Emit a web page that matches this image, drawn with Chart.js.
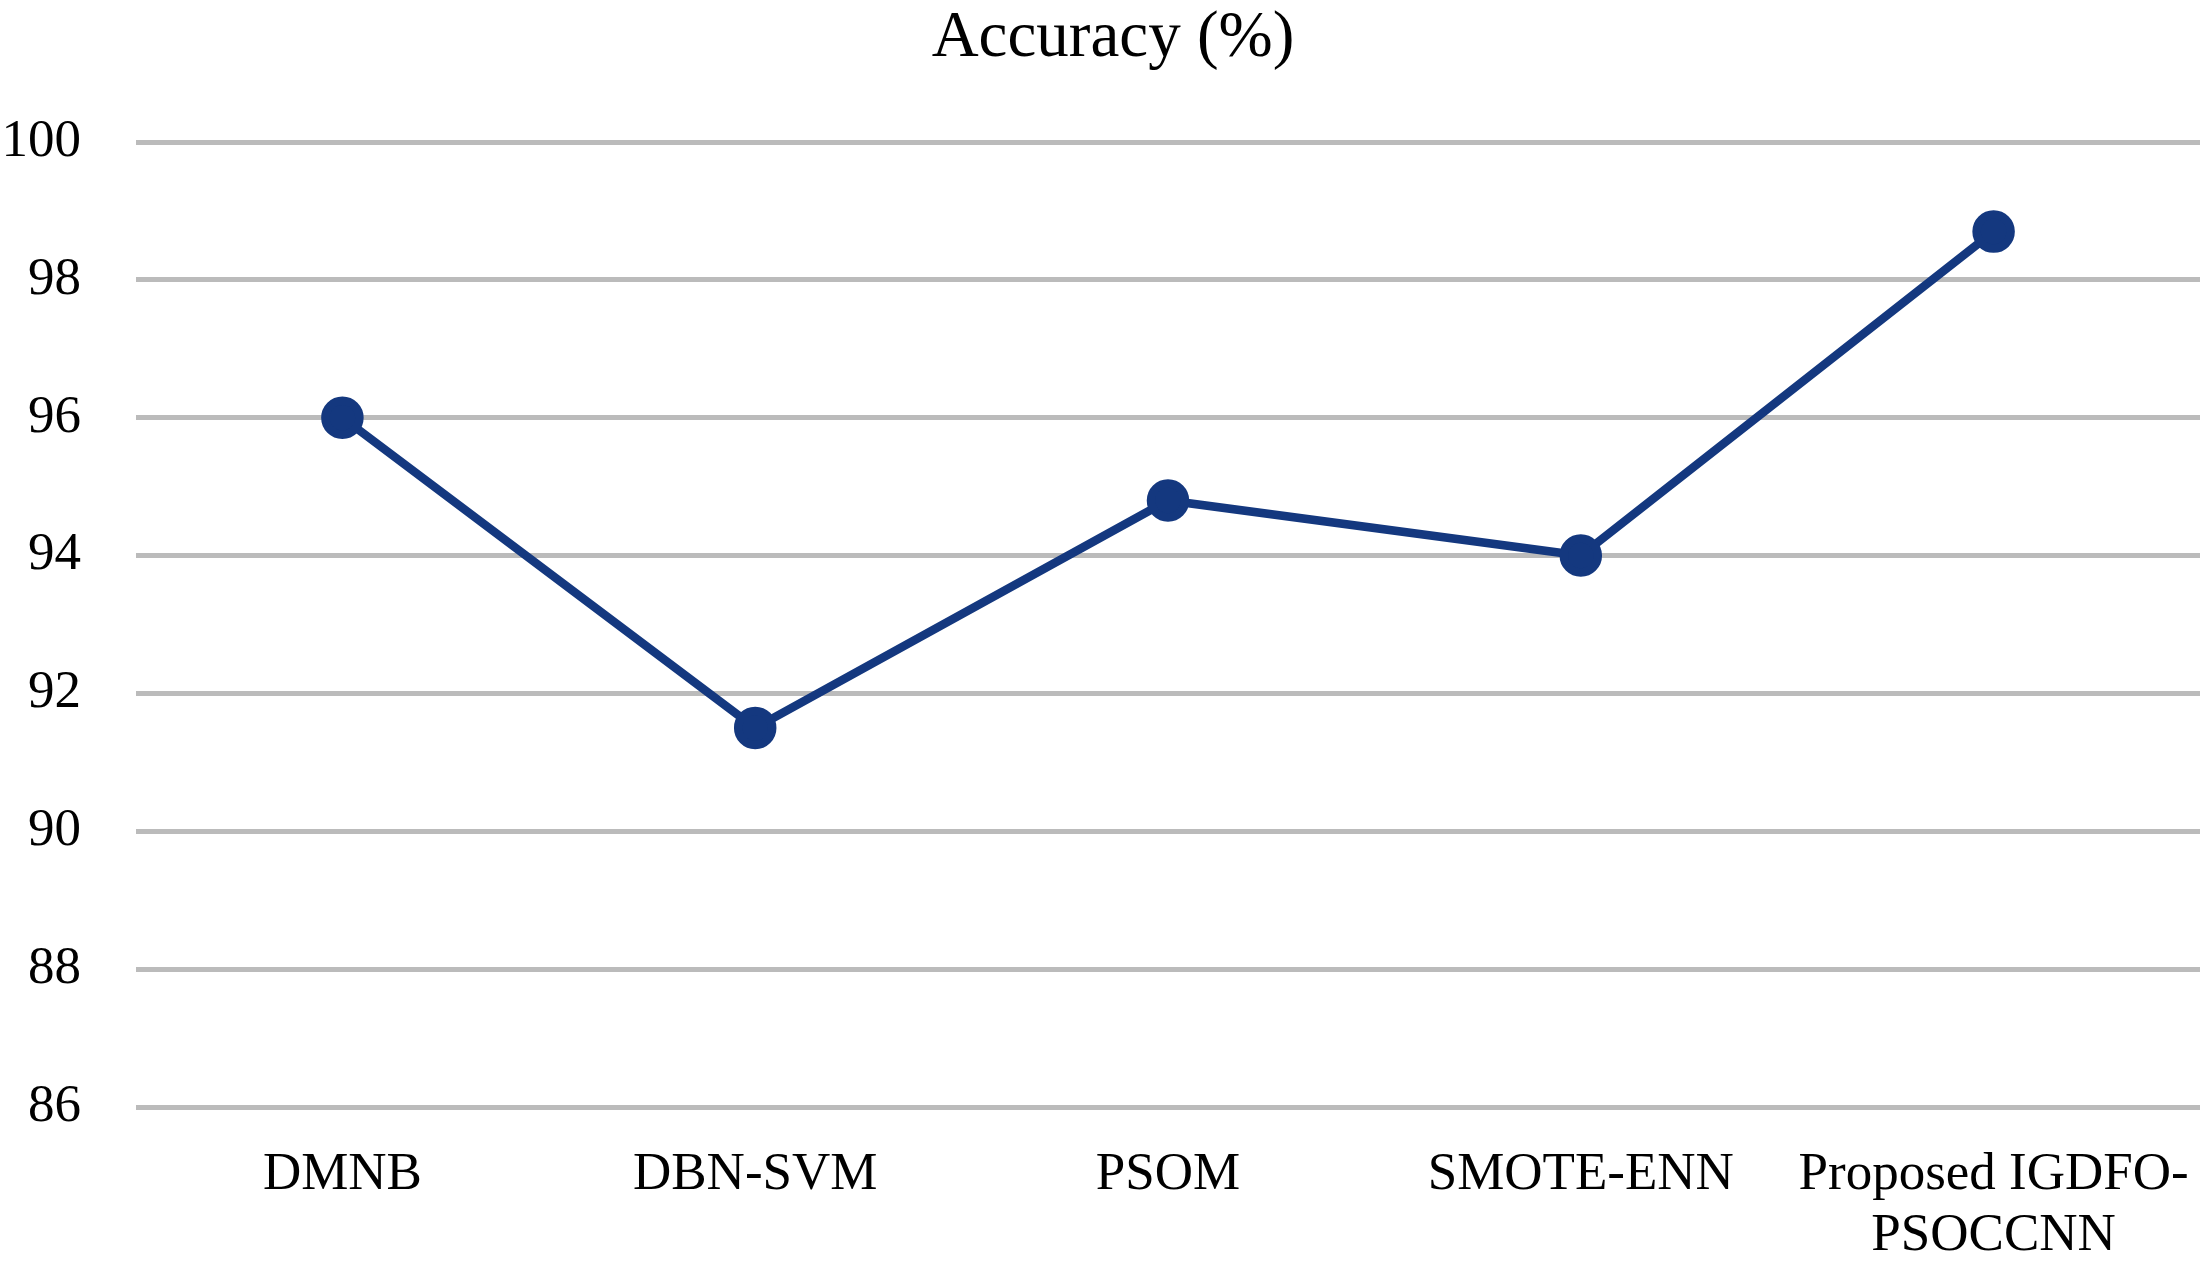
<!DOCTYPE html>
<html>
<head>
<meta charset="utf-8">
<script src="https://cdn.jsdelivr.net/npm/chart.js@4/dist/chart.umd.min.js"></script>
<style>
html,body{margin:0;padding:0;background:#fff;}
#wrap{width:2200px;height:1267px;}
</style>
</head>
<body>
<div id="wrap"><canvas id="c" width="2200" height="1267"></canvas></div>
<script>
const categories = ["DMNB", "DBN-SVM", "PSOM", "SMOTE-ENN", ["Proposed IGDFO-", "PSOCCNN"]];
const accuracy = [96.0, 91.5, 94.8, 94.0, 98.7];
const yMin = 86, yMax = 100, yStep = 2;
const titleText = "Accuracy (%)";

const FONT = "'Liberation Serif', 'Times New Roman', serif";
const lineColor = "#14387F";

const titleShift = {
  id: 'titleShift',
  afterLayout(chart) {
    if (chart.titleBlock) { chart.titleBlock.left += 26; }
  }
};

new Chart(document.getElementById('c'), {
  type: 'line',
  data: {
    labels: categories,
    datasets: [{
      label: titleText,
      data: accuracy,
      borderColor: lineColor,
      backgroundColor: lineColor,
      pointBackgroundColor: lineColor,
      pointBorderColor: lineColor,
      borderWidth: 8.5,
      pointRadius: 17,
      pointHoverRadius: 17,
      tension: 0,
      fill: false,
      clip: false
    }]
  },
  plugins: [titleShift],
  options: {
    responsive: false,
    animation: false,
    devicePixelRatio: 1,
    layout: { autoPadding: false, padding: { left: 0, right: 0, top: 0, bottom: 0 } },
    plugins: {
      legend: { display: false },
      tooltip: { enabled: false },
      title: {
        display: true,
        text: titleText,
        color: '#000',
        font: { family: FONT, size: 65, weight: 'normal', lineHeight: 1.2 },
        padding: { top: 0, bottom: 64 }
      }
    },
    scales: {
      x: {
        type: 'category',
        offset: true,
        grid: { display: false, drawTicks: false },
        border: { display: false },
        ticks: {
          color: '#000',
          font: { family: FONT, size: 53, lineHeight: 1.15 },
          padding: 38,
          maxRotation: 0,
          minRotation: 0,
          autoSkip: false
        },
        afterFit: (s) => { s.height = 160; s.paddingLeft = 0; s.paddingRight = 0; }
      },
      y: {
        min: yMin,
        max: yMax,
        grid: { color: '#BBBBBB', lineWidth: 5, drawTicks: false },
        border: { display: false },
        ticks: {
          stepSize: yStep,
          color: '#000',
          font: { family: FONT, size: 53 },
          padding: 55
        },
        afterFit: (s) => { s.width = 136; }
      }
    }
  }
});
</script>
</body>
</html>
